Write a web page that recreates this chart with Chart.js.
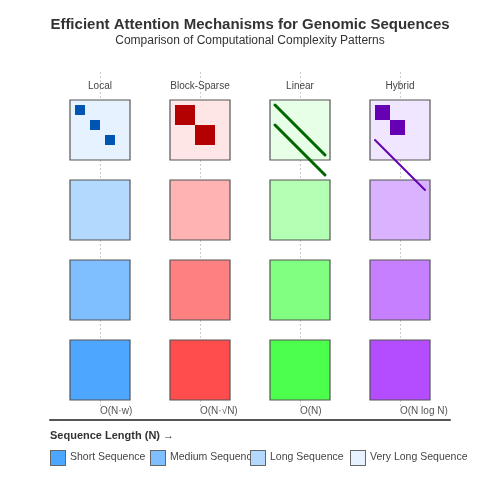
<!DOCTYPE html>
<html lang="en">
<head>
    <meta charset="utf-8">
    <title>Efficient Attention Mechanisms</title>
    <style>
        body { margin: 0; background: #fff; }
        #wrap { width: 500px; height: 500px; }
    </style>
</head>
<body>
    <div id="wrap"><canvas id="chart"></canvas></div>
    <script src="https://cdn.jsdelivr.net/npm/chart.js"></script>
    <script>
        const mechanisms = ['Local', 'Block-Sparse', 'Linear', 'Hybrid'];
        const complexity = ['O(N·w)', 'O(N·√N)', 'O(N)', 'O(N log N)'];
        const lengths = ['Short Sequence', 'Medium Sequence', 'Long Sequence', 'Very Long Sequence'];
        const rowLevel = [1, 2, 3, 4];
        const shades = [
            ['#4da6ff', '#80bfff', '#b3d9ff', '#e6f2ff'],
            ['#ff4d4d', '#ff8080', '#ffb3b3', '#ffe6e6'],
            ['#4dff4d', '#80ff80', '#b3ffb3', '#e6ffe6'],
            ['#b34dff', '#c680ff', '#d9b3ff', '#f0e6ff']
        ];
        const patternColors = ['#0055b3', '#b30000', '#006600', '#6600b3'];

        const datasets = lengths.map((name, r) => ({
            label: name,
            data: mechanisms.map((m, c) => ({ x: c + 1, y: rowLevel[r] })),
            pointStyle: 'rect',
            pointRadius: 42.43,
            pointHoverRadius: 42.43,
            backgroundColor: shades.map(s => s[r]),
            borderColor: '#555',
            borderWidth: 1.2
        }));

        const decor = {
            id: 'decor',
            beforeDatasetsDraw(chart) {
                const ctx = chart.ctx;
                const xs = chart.scales.x;
                ctx.save();
                ctx.strokeStyle = '#ccc';
                ctx.setLineDash([2, 2]);
                ctx.lineWidth = 1;
                mechanisms.forEach((m, c) => {
                    const px = Math.round(xs.getPixelForValue(c + 1)) + 0.5;
                    ctx.beginPath(); ctx.moveTo(px, 72); ctx.lineTo(px, 406); ctx.stroke();
                });
                ctx.restore();
            },
            afterDatasetsDraw(chart) {
                const ctx = chart.ctx;
                const xs = chart.scales.x, ys = chart.scales.y;
                const ca = chart.chartArea;
                ctx.save();
                ctx.textBaseline = 'middle';
                ctx.fillStyle = '#333';
                ctx.textAlign = 'center';
                ctx.font = 'bold 15px "Liberation Sans", Arial, sans-serif';
                ctx.fillText('Efficient Attention Mechanisms for Genomic Sequences', 250, 25);
                ctx.font = '12px "Liberation Sans", Arial, sans-serif';
                ctx.fillText('Comparison of Computational Complexity Patterns', 250, 41);
                ctx.font = '10px "Liberation Sans", Arial, sans-serif';
                ctx.fillStyle = '#444';
                mechanisms.forEach((m, c) => ctx.fillText(m, xs.getPixelForValue(c + 1), 86));
                ctx.textAlign = 'left';
                ctx.fillStyle = '#555';
                complexity.forEach((t, c) => ctx.fillText(t, xs.getPixelForValue(c + 1), 411));

                // patterns in the top squares
                const topY = ys.getPixelForValue(rowLevel[3]) - 30;
                mechanisms.forEach((m, c) => {
                    const x0 = xs.getPixelForValue(c + 1) - 30, y0 = topY;
                    ctx.fillStyle = patternColors[c];
                    ctx.strokeStyle = patternColors[c];
                    ctx.lineCap = 'round';
                    if (c === 0) {
                        [0, 1, 2].forEach(i => ctx.fillRect(x0 + 5 + i * 15, y0 + 5 + i * 15, 10, 10));
                    } else if (c === 1) {
                        ctx.fillRect(x0 + 5, y0 + 5, 20, 20);
                        ctx.fillRect(x0 + 25, y0 + 25, 20, 20);
                    } else if (c === 2) {
                        ctx.lineWidth = 3;
                        ctx.beginPath(); ctx.moveTo(x0 + 5, y0 + 5); ctx.lineTo(x0 + 55, y0 + 55);
                        ctx.moveTo(x0 + 5, y0 + 25); ctx.lineTo(x0 + 55, y0 + 75); ctx.stroke();
                    } else {
                        ctx.fillRect(x0 + 5, y0 + 5, 15, 15);
                        ctx.fillRect(x0 + 20, y0 + 20, 15, 15);
                        ctx.lineWidth = 2;
                        ctx.beginPath(); ctx.moveTo(x0 + 5, y0 + 40); ctx.lineTo(x0 + 55, y0 + 90); ctx.stroke();
                    }
                });

                // axis line
                ctx.strokeStyle = '#555';
                ctx.lineWidth = 2;
                ctx.beginPath(); ctx.moveTo(ca.left, 420); ctx.lineTo(ca.right, 420); ctx.stroke();
                ctx.fillStyle = '#333';
                ctx.font = 'bold 11px "Liberation Sans", Arial, sans-serif';
                ctx.fillText('Sequence Length (N) →', 50, 436);

                // legend
                ctx.font = '10.5px "Liberation Sans", Arial, sans-serif';
                lengths.forEach((name, r) => {
                    const lx = 50 + r * 100;
                    ctx.fillStyle = shades[0][r];
                    ctx.fillRect(lx, 450, 15, 15);
                    ctx.strokeStyle = '#666';
                    ctx.lineWidth = 1;
                    ctx.strokeRect(lx + 0.5, 450.5, 15, 15);
                    ctx.fillStyle = '#444';
                    ctx.fillText(name, lx + 20, 457);
                });
                ctx.restore();
            }
        };

        new Chart(document.getElementById('chart'), {
            type: 'scatter',
            data: { datasets },
            options: {
                responsive: true,
                maintainAspectRatio: false,
                animation: false,
                layout: { padding: { left: 50, right: 50, top: 90, bottom: 81 } },
                scales: {
                    x: { type: 'linear', min: 0.5, max: 4.5, display: false },
                    y: { type: 'linear', min: 0.3875, max: 4.5, display: false }
                },
                plugins: { legend: { display: false }, tooltip: { enabled: false } }
            },
            plugins: [decor]
        });
    </script>
</body>
</html>
